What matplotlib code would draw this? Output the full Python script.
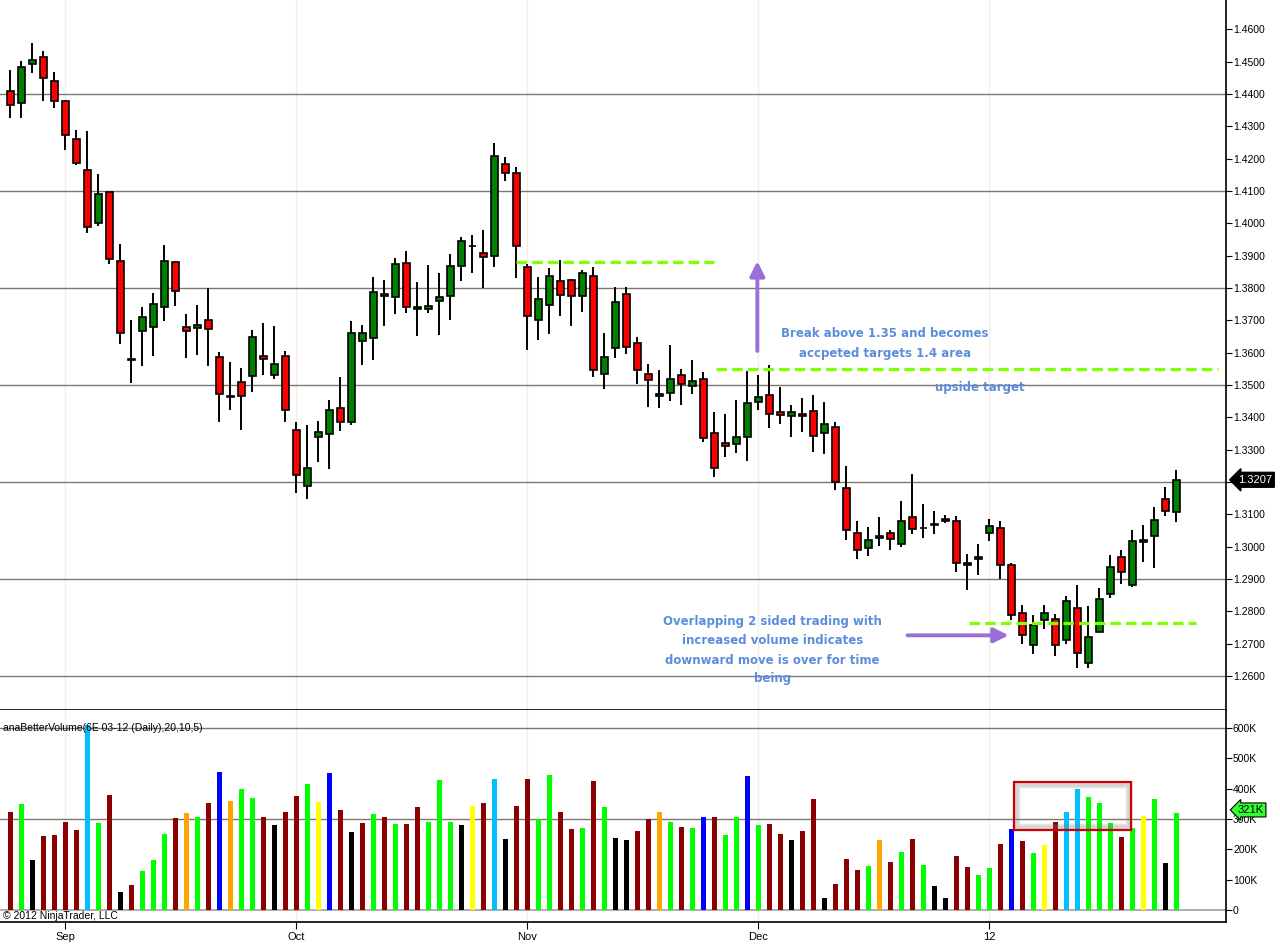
import matplotlib.pyplot as plt
import numpy as np
from matplotlib.patches import Rectangle

# Daily 6E 03-12 candles (Aug - Dec 2011)
opens = [1.4409, 1.4372, 1.4493, 1.4514, 1.4440, 1.4378, 1.4261, 1.4165, 1.4001, 1.4097,
         1.3883, 1.3579, 1.3666, 1.3679, 1.3741, 1.3880, 1.3679, 1.3675, 1.3700, 1.3586,
         1.3464, 1.3508, 1.3527, 1.3589, 1.3530, 1.3589, 1.3361, 1.3189, 1.3338, 1.3350,
         1.3430, 1.3387, 1.3635, 1.3647, 1.3777, 1.3771, 1.3879, 1.3734, 1.3734, 1.3759,
         1.3774, 1.3867, 1.3930, 1.3910, 1.3898, 1.4183, 1.4155, 1.3864, 1.3700, 1.3749,
         1.3821, 1.3824, 1.3774, 1.3836, 1.3533, 1.3616, 1.3783, 1.3629, 1.3533, 1.3465,
         1.3475, 1.3530, 1.3496, 1.3520, 1.3353, 1.3322, 1.3319, 1.3338, 1.3449, 1.3468,
         1.3416, 1.3403, 1.3409, 1.3421, 1.3353, 1.3369, 1.3183, 1.3044, 1.2997, 1.3028,
         1.3044, 1.3007, 1.3091, 1.3057, 1.3066, 1.3087, 1.3081, 1.2951, 1.2961, 1.3044,
         1.3057, 1.2945, 1.2796, 1.2697, 1.2772, 1.2775, 1.2710, 1.2812, 1.2639, 1.2737,
         1.2855, 1.2967, 1.2883, 1.3016, 1.3032, 1.3149, 1.3106]
highs = [1.4475, 1.4503, 1.4557, 1.4534, 1.4469, 1.4382, 1.4289, 1.4286, 1.4153, 1.4097,
         1.3937, 1.3701, 1.3742, 1.3785, 1.3933, 1.3882, 1.3720, 1.3748, 1.3799, 1.3601,
         1.3571, 1.3553, 1.3670, 1.3692, 1.3684, 1.3605, 1.3385, 1.3376, 1.3388, 1.3453,
         1.3524, 1.3698, 1.3685, 1.3834, 1.3825, 1.3893, 1.3915, 1.3819, 1.3871, 1.3846,
         1.3905, 1.3958, 1.3963, 1.3980, 1.4249, 1.4204, 1.4174, 1.3873, 1.3834, 1.3862,
         1.3886, 1.3827, 1.3855, 1.3865, 1.3662, 1.3804, 1.3804, 1.3648, 1.3564, 1.3548,
         1.3623, 1.3551, 1.3576, 1.3539, 1.3418, 1.3410, 1.3453, 1.3544, 1.3530, 1.3561,
         1.3494, 1.3438, 1.3460, 1.3469, 1.3447, 1.3385, 1.3251, 1.3081, 1.3062, 1.3093,
         1.3053, 1.3140, 1.3224, 1.3132, 1.3110, 1.3098, 1.3095, 1.2977, 1.3008, 1.3085,
         1.3079, 1.2951, 1.2819, 1.2790, 1.2821, 1.2793, 1.2847, 1.2883, 1.2818, 1.2871,
         1.2973, 1.2989, 1.3053, 1.3066, 1.3123, 1.3185, 1.3236]
lows = [1.4325, 1.4325, 1.4464, 1.4380, 1.4356, 1.4227, 1.4182, 1.3969, 1.3993, 1.3873,
        1.3628, 1.3507, 1.3560, 1.3591, 1.3699, 1.3746, 1.3585, 1.3592, 1.3560, 1.3387,
        1.3422, 1.3362, 1.3479, 1.3532, 1.3520, 1.3387, 1.3167, 1.3148, 1.3262, 1.3241,
        1.3358, 1.3378, 1.3563, 1.3578, 1.3683, 1.3720, 1.3724, 1.3653, 1.3724, 1.3655,
        1.3702, 1.3823, 1.3847, 1.3799, 1.3864, 1.4132, 1.3830, 1.3609, 1.3640, 1.3659,
        1.3714, 1.3683, 1.3727, 1.3526, 1.3489, 1.3584, 1.3597, 1.3502, 1.3433, 1.3428,
        1.3451, 1.3437, 1.3472, 1.3324, 1.3216, 1.3278, 1.3290, 1.3266, 1.3423, 1.3368,
        1.3380, 1.3340, 1.3355, 1.3293, 1.3287, 1.3176, 1.3021, 1.2962, 1.2971, 1.3003,
        1.2991, 1.3000, 1.3038, 1.3028, 1.3038, 1.3072, 1.2922, 1.2867, 1.2913, 1.3018,
        1.2901, 1.2774, 1.2699, 1.2668, 1.2744, 1.2662, 1.2699, 1.2625, 1.2626, 1.2735,
        1.2840, 1.2886, 1.2876, 1.2954, 1.2933, 1.3094, 1.3075]
closes = [1.4366, 1.4485, 1.4506, 1.4449, 1.4378, 1.4273, 1.4186, 1.3988, 1.4090, 1.3889,
          1.3660, 1.3579, 1.3710, 1.3750, 1.3883, 1.3790, 1.3666, 1.3685, 1.3672, 1.3471,
          1.3464, 1.3465, 1.3649, 1.3580, 1.3564, 1.3422, 1.3223, 1.3242, 1.3356, 1.3424,
          1.3387, 1.3660, 1.3660, 1.3787, 1.3783, 1.3876, 1.3743, 1.3740, 1.3746, 1.3771,
          1.3867, 1.3947, 1.3930, 1.3897, 1.4208, 1.4155, 1.3929, 1.3715, 1.3765, 1.3836,
          1.3780, 1.3777, 1.3848, 1.3548, 1.3588, 1.3756, 1.3619, 1.3548, 1.3517, 1.3472,
          1.3520, 1.3502, 1.3514, 1.3335, 1.3245, 1.3310, 1.3338, 1.3444, 1.3462, 1.3412,
          1.3406, 1.3418, 1.3403, 1.3344, 1.3381, 1.3199, 1.3053, 1.2991, 1.3022, 1.3034,
          1.3025, 1.3081, 1.3056, 1.3057, 1.3070, 1.3081, 1.2951, 1.2945, 1.2967, 1.3064,
          1.2942, 1.2790, 1.2728, 1.2759, 1.2794, 1.2697, 1.2831, 1.2670, 1.2722, 1.2837,
          1.2936, 1.2923, 1.3019, 1.3022, 1.3084, 1.3109, 1.3207]

# volume in thousands and anaBetterVolume bar class
volumes = [325, 350, 165, 245, 248, 291, 264, 610, 287, 380,
           59, 84, 129, 165, 251, 304, 320, 307, 354, 456,
           360, 400, 370, 307, 281, 324, 377, 416, 357, 453,
           330, 258, 287, 317, 307, 284, 284, 340, 291, 430,
           291, 281, 344, 354, 433, 235, 344, 433, 301, 446,
           324, 268, 271, 426, 340, 238, 231, 261, 301, 324,
           291, 274, 271, 307, 307, 248, 307, 443, 281, 284,
           251, 231, 261, 367, 40, 86, 169, 132, 145, 231,
           159, 192, 235, 149, 79, 40, 178, 142, 116, 139,
           218, 268, 228, 188, 215, 291, 324, 400, 373, 354,
           287, 241, 271, 311, 367, 155, 321]
vol_class = ['dr', 'g', 'k', 'dr', 'dr', 'dr', 'dr', 'sb', 'g', 'dr',
             'k', 'dr', 'g', 'g', 'g', 'dr', 'o', 'g', 'dr', 'b',
             'o', 'g', 'g', 'dr', 'k', 'dr', 'dr', 'g', 'y', 'b',
             'dr', 'k', 'dr', 'g', 'dr', 'g', 'dr', 'dr', 'g', 'g',
             'g', 'k', 'y', 'dr', 'sb', 'k', 'dr', 'dr', 'g', 'g',
             'dr', 'dr', 'g', 'dr', 'g', 'k', 'k', 'dr', 'dr', 'o',
             'g', 'dr', 'g', 'b', 'dr', 'g', 'g', 'b', 'g', 'dr',
             'dr', 'k', 'dr', 'dr', 'k', 'dr', 'dr', 'dr', 'g', 'o',
             'dr', 'g', 'dr', 'g', 'k', 'k', 'dr', 'dr', 'g', 'g',
             'dr', 'b', 'dr', 'g', 'y', 'dr', 'sb', 'sb', 'g', 'g',
             'g', 'dr', 'g', 'y', 'g', 'k', 'g']

month_pos = [5, 26, 47, 68, 89]
month_labels = ['Sep', 'Oct', 'Nov', 'Dec', '12']
price_ticks = np.round(np.arange(1.26, 1.4601, 0.01), 2)
price_grid = [1.26, 1.29, 1.32, 1.35, 1.38, 1.41, 1.44]
vol_ticks = [0, 100, 200, 300, 400, 500, 600]
vol_tick_labels = ['0', '100K', '200K', '300K', '400K', '500K', '600K']

class_colors = {'dr': '#8B0000', 'g': '#00FF00', 'k': '#000000', 'sb': '#00BFFF',
                'b': '#0000FF', 'o': '#FFA500', 'y': '#FFFF00'}

plt.rcParams['font.family'] = ['Liberation Sans', 'DejaVu Sans']

W, H = 1280, 949
fig = plt.figure(figsize=(12.8, 9.49), dpi=100)
ax = fig.add_axes([0, 1 - 710 / H, 1226 / W, 710 / H])
axv = fig.add_axes([0, 1 - 922 / H, 1226 / W, 212 / H], sharex=ax)

o = np.array(opens)
h = np.array(highs)
l = np.array(lows)
c = np.array(closes)
x = np.arange(len(o))

grid_col = '#7d7770'
light_col = '#f3ede3'

# price panel
for g in price_grid:
    ax.axhline(g, color=grid_col, lw=1, zorder=1)
for m in month_pos:
    ax.axvline(m, color=light_col, lw=1, zorder=0)
    axv.axvline(m, color=light_col, lw=1, zorder=0)

ax.vlines(x, l, h, color='black', lw=1.4, zorder=2)
up = c >= o
body_h = np.maximum(np.abs(c - o), 0.00012)
ax.bar(x, body_h, bottom=np.minimum(o, c), width=0.6,
       color=np.where(up, '#008000', '#FF0000'), edgecolor='black', lw=1.2, zorder=3)

ax.set_ylim(1.2495, 1.4691)
ax.set_xlim(-0.94, 110.5)
ax.yaxis.tick_right()
ax.set_yticks(price_ticks)
# the last-price marker sits on top of the 1.3200 label, as in NinjaTrader
ax.set_yticklabels(['' if abs(t - 1.32) < 1e-6 else '%.4f' % t for t in price_ticks])
ax.tick_params(axis='y', direction='out', length=4, labelsize=7.5, pad=1)
ax.tick_params(axis='x', bottom=False, labelbottom=False)
for s in ['left', 'top']:
    ax.spines[s].set_visible(False)
ax.spines['right'].set_linewidth(1.2)
ax.spines['bottom'].set_linewidth(1.2)

# last price marker
ax.annotate('%.4f' % closes[-1], xy=(1.0, closes[-1]), xycoords=ax.get_yaxis_transform(),
            xytext=(8.5, 0), textcoords='offset points', ha='left', va='center',
            color='white', fontsize=8,
            bbox=dict(boxstyle='larrow,pad=0.22', fc='black', ec='black'),
            annotation_clip=False)

# annotations
lime = '#7FFF00'
ax.plot([45.97, 63.97], [1.3881, 1.3881], color=lime, lw=2.3, dashes=(3.3, 1.6), zorder=4)
ax.plot([64.1, 109.8], [1.3550, 1.3550], color=lime, lw=2.3, dashes=(3.3, 1.6), zorder=4)
ax.plot([87.1, 107.8], [1.2763, 1.2763], color=lime, lw=2.3, dashes=(3.3, 1.6), zorder=4)

purple = '#9A6FD8'
ax.annotate('', xy=(67.9, 1.3892), xytext=(67.9, 1.3597),
            arrowprops=dict(arrowstyle='-|>', color=purple, lw=2.8, mutation_scale=22))
ax.annotate('', xy=(91.0, 1.2726), xytext=(81.3, 1.2726),
            arrowprops=dict(arrowstyle='-|>', color=purple, lw=2.8, mutation_scale=22))

txt_col = '#5B8DDB'
tkw = dict(color=txt_col, fontsize=8.5, fontweight='bold', ha='center', va='center',
           family=['DejaVu Sans'])
ax.text(79.5, 1.3658, 'Break above 1.35 and becomes', **tkw)
ax.text(79.5, 1.3599, 'accpeted targets 1.4 area', **tkw)
ax.text(88.1, 1.3494, 'upside target', **tkw)
ax.text(69.3, 1.2770, 'Overlapping 2 sided trading with', **tkw)
ax.text(69.3, 1.2711, 'increased volume indicates', **tkw)
ax.text(69.3, 1.2649, 'downward move is over for time', **tkw)
ax.text(69.3, 1.2591, 'being', **tkw)

# volume panel
axv.axhline(300, color=grid_col, lw=1, zorder=1)
axv.axhline(600, color=grid_col, lw=1, zorder=1)
axv.axhline(0, color='#a0a0a0', lw=1.2, zorder=1)
axv.bar(x, volumes, width=0.45, color=[class_colors[k] for k in vol_class], zorder=2)
axv.set_ylim(-39.6, 660)
axv.yaxis.tick_right()
axv.set_yticks(vol_ticks)
axv.set_yticklabels(vol_tick_labels)
axv.tick_params(axis='y', direction='out', length=4, labelsize=7.5, pad=1)
axv.set_xticks(month_pos)
axv.set_xticklabels(month_labels)
axv.tick_params(axis='x', direction='out', length=5, labelsize=8, pad=2)
for s in ['left', 'top']:
    axv.spines[s].set_visible(False)
axv.spines['right'].set_linewidth(1.2)
axv.spines['bottom'].set_linewidth(1.2)

# last volume marker (drawn over the 300K label, as in the original)
axv.annotate('%dK' % volumes[-1], xy=(1.0, volumes[-1]), xycoords=axv.get_yaxis_transform(),
             xytext=(8.5, 2), textcoords='offset points', ha='left', va='center',
             color='black', fontsize=8, zorder=10,
             bbox=dict(boxstyle='larrow,pad=0.18', fc='#33FF33', ec='black', lw=0.8),
             annotation_clip=False)

# highlight box with soft shadow
for off, a in [(0.35, 0.10), (0.25, 0.12), (0.15, 0.15)]:
    axv.add_patch(Rectangle((91.25 + off, 263.7 + off * 40), 10.65 - 2 * off, 158 - off * 80,
                            fill=False, ec='gray', lw=4, alpha=a, zorder=3))
axv.add_patch(Rectangle((91.25, 263.7), 10.65, 158, fill=False, ec='#CC0000', lw=1.6, zorder=4))

axv.text(3 / 1226, 600, 'anaBetterVolume(6E 03-12 (Daily),20,10,5)',
         transform=axv.get_yaxis_transform(), fontsize=7.5, va='center', ha='left')
axv.text(3 / 1226, -19.8, '\u00a9 2012 NinjaTrader, LLC',
         transform=axv.get_yaxis_transform(), fontsize=7.5, va='center', ha='left')

fig.savefig('out.png', dpi=100)
